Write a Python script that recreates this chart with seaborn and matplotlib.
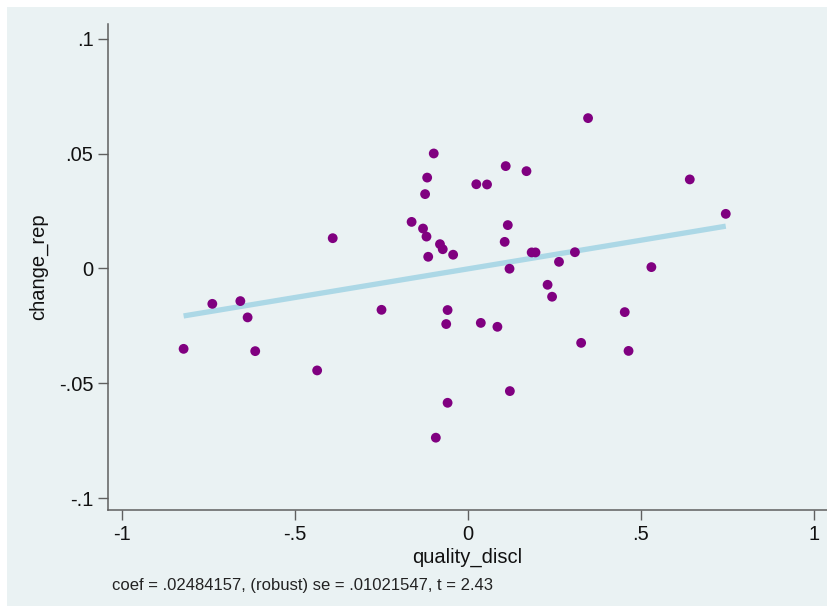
import numpy as np
import pandas as pd
import matplotlib
matplotlib.use("Agg")
import matplotlib.pyplot as plt
import seaborn as sns
from matplotlib.patches import Rectangle

# ---- data ----
quality_discl = [
    -0.822, -0.739, -0.658, -0.637, -0.615, -0.391, -0.436, -0.250,
    0.347, -0.099, -0.118, -0.124, 0.109, 0.169, 0.024, 0.055,
    -0.163, -0.130, -0.120, -0.081, -0.073, -0.115, -0.043, 0.115,
    0.106, 0.120, 0.184, 0.195, 0.263, 0.309, 0.230, 0.243,
    -0.059, -0.063, 0.037, 0.085, 0.453, 0.327, 0.464, 0.121,
    -0.059, -0.093, 0.641, 0.745, 0.530,
]
change_rep = [
    -0.0350, -0.0154, -0.0142, -0.0213, -0.0360, 0.0132, -0.0444, -0.0180,
    0.0655, 0.0501, 0.0396, 0.0324, 0.0446, 0.0424, 0.0367, 0.0366,
    0.0203, 0.0174, 0.0139, 0.0106, 0.0084, 0.0051, 0.0060, 0.0189,
    0.0116, -0.0001, 0.0070, 0.0070, 0.0029, 0.0071, -0.0071, -0.0123,
    -0.0181, -0.0242, -0.0237, -0.0254, -0.0190, -0.0324, -0.0359, -0.0534,
    -0.0585, -0.0737, 0.0388, 0.0238, 0.0006,
]
x_ticks = [-1, -0.5, 0, 0.5, 1]
x_ticklabels = ["-1", "-.5", "0", ".5", "1"]
y_ticks = [0.1, 0.05, 0, -0.05, -0.1]
y_ticklabels = [".1", ".05", "0", "-.05", "-.1"]
note = "coef = .02484157, (robust) se = .01021547, t = 2.43"

df = pd.DataFrame({"quality_discl": quality_discl, "change_rep": change_rep})

# ---- style ----
sns.set_style("white")
plt.rcParams["font.family"] = ["Liberation Sans", "DejaVu Sans"]
BG = "#eaf2f3"
SPINE = "#5f5f5f"

W, H = 827, 606
fig = plt.figure(figsize=(W / 100, H / 100), dpi=100, facecolor="white")
fig.patches.append(Rectangle((7 / W, 0), 1 - 7 / W, 1 - 7 / H,
                             transform=fig.transFigure, facecolor=BG,
                             edgecolor="none", zorder=-10))

left, right, bottom, top = 108 / W, 1.0, 1 - 510 / H, 1 - 24 / H
ax = fig.add_axes([left, bottom, right - left, top - bottom])
ax.set_zorder(1)
ax.set_facecolor(BG)

sns.regplot(data=df, x="quality_discl", y="change_rep", ax=ax, scatter=False,
            ci=None, truncate=True,
            line_kws=dict(color="#acd8e6", lw=3.8, solid_capstyle="butt", zorder=2))
sns.scatterplot(data=df, x="quality_discl", y="change_rep", ax=ax,
                color="#800080", s=50, edgecolor="none", zorder=3)

ax.set_xlim(-1.0405, 1.0376)
ax.set_ylim(-0.1052, 0.1065)

ax.set_xticks(x_ticks)
ax.set_xticklabels(x_ticklabels)
ax.set_yticks(y_ticks)
ax.set_yticklabels(y_ticklabels)

for s in ["top", "right"]:
    ax.spines[s].set_visible(False)
for s in ["left", "bottom"]:
    ax.spines[s].set_color(SPINE)
    ax.spines[s].set_linewidth(1.1)

ax.tick_params(axis="both", which="major", length=7.5, width=1.0, color=SPINE,
               labelsize=14.5, labelcolor="#111111", pad=3, direction="out",
               left=True, bottom=True)

ax.set_xlabel("quality_discl", fontsize=14.5, labelpad=3, color="#111111")
ax.set_ylabel("change_rep", fontsize=14.5, labelpad=8, color="#111111")

fig.text(112 / W, 1 - 590 / H, note, fontsize=12, ha="left", va="baseline",
         color="#222222")

fig.savefig("out.png", dpi=100, facecolor=fig.get_facecolor())
